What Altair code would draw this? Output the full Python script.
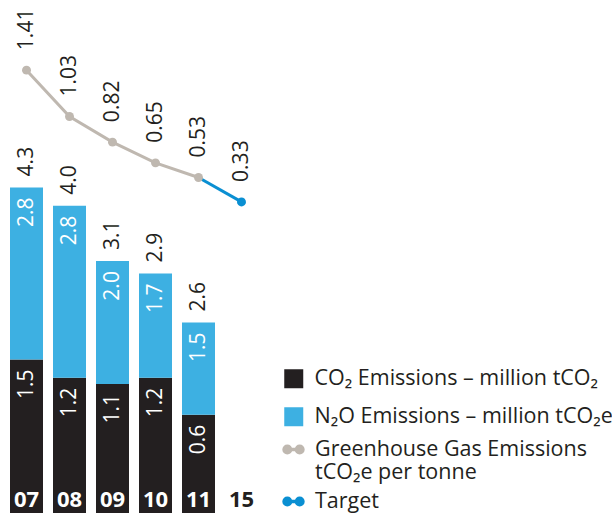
import altair as alt
import pandas as pd

# ---- data ----
years = ["07", "08", "09", "10", "11", "15"]
bar_years = ["07", "08", "09", "10", "11"]
co2 = [1.5, 1.2, 1.1, 1.2, 0.6]
n2o = [2.8, 2.8, 2.0, 1.7, 1.5]
totals = [4.3, 4.0, 3.1, 2.9, 2.6]
ghg = [1.41, 1.03, 0.82, 0.65, 0.53]
target_year = "15"
target_value = 0.33

co2_label = "CO₂ Emissions – million tCO₂"
n2o_label = "N₂O Emissions – million tCO₂e"
ghg_label = "Greenhouse Gas Emissions|tCO₂e per tonne"
target_label = "Target"

BLACK = "#231f20"
BLUE = "#3db0e2"
GRAY = "#bfb8b0"
TBLUE = "#0a8fd2"
FONT = "Open Sans"

df_co2 = pd.DataFrame({"year": bar_years, "value": co2, "series": co2_label})
df_n2o = pd.DataFrame({
    "year": bar_years,
    "lo": co2,
    "hi": [a + b for a, b in zip(co2, n2o)],
    "n2o": n2o,
    "total": totals,
    "series": n2o_label,
})

df_line = pd.DataFrame({
    "year": bar_years + [bar_years[-1], target_year],
    "value": ghg + [ghg[-1], target_value],
    "series": [ghg_label] * len(ghg) + [target_label, target_label],
})
df_pts = pd.DataFrame({
    "year": bar_years + [target_year],
    "value": ghg + [target_value],
    "series": [ghg_label] * len(ghg) + [target_label],
})

x_scale = alt.Scale(domain=years, paddingInner=10 / 43, paddingOuter=5 / 43)
x_axis = alt.Axis(
    title=None, labelAngle=0, ticks=False, tickSize=0, domain=False, grid=False,
    labelFont=FONT, labelFontSize=22, labelFontWeight="bold",
    labelBaseline="alphabetic", labelPadding=-7, zindex=2,
    labelColor={"condition": {"test": "datum.value == '15'", "value": BLACK}, "value": "#ffffff"},
)
x_enc = alt.X("year:N", scale=x_scale, axis=x_axis)

ybar = alt.Scale(domain=[-1, 7.35])
yline = alt.Scale(domain=[-2.22, 1.985])

bar_color = alt.Color(
    "series:N",
    scale=alt.Scale(domain=[co2_label, n2o_label], range=[BLACK, BLUE]),
    legend=alt.Legend(
        orient="none", legendX=278, legendY=368, title=None, padding=0,
        symbolType="square", symbolSize=361, symbolStrokeWidth=0,
        labelFont=FONT, labelFontSize=21.5, labelColor=BLACK, labelLimit=400,
        labelOffset=10, rowPadding=15,
    ),
)

black = alt.Chart(df_co2).mark_bar().encode(
    x=x_enc,
    y=alt.Y("value:Q", scale=ybar, axis=None, stack=None),
    y2=alt.value("height"),
    color=bar_color,
)
blue = alt.Chart(df_n2o).mark_bar().encode(
    x=x_enc,
    y=alt.Y("lo:Q", scale=ybar, axis=None, stack=None),
    y2="hi:Q",
    color=bar_color,
)
co2_text = alt.Chart(df_co2).mark_text(
    angle=270, align="right", baseline="middle", dx=-10,
    font=FONT, fontSize=21, color="white",
).encode(x=x_enc, y=alt.Y("value:Q", scale=ybar, axis=None), text=alt.Text("value:Q", format=".1f"))
n2o_text = alt.Chart(df_n2o).mark_text(
    angle=270, align="right", baseline="middle", dx=-10,
    font=FONT, fontSize=21, color="white",
).encode(x=x_enc, y=alt.Y("hi:Q", scale=ybar, axis=None), text=alt.Text("n2o:Q", format=".1f"))
tot_text = alt.Chart(df_n2o).mark_text(
    angle=270, align="left", baseline="middle", dx=11,
    font=FONT, fontSize=21, color=BLACK,
).encode(x=x_enc, y=alt.Y("hi:Q", scale=ybar, axis=None), text=alt.Text("total:Q", format=".1f"))

bars = alt.layer(black, blue, co2_text, n2o_text, tot_text)


def circ(cx, r):
    return f"M{cx - r},0a{r},{r} 0 1,0 {2 * r},0a{r},{r} 0 1,0 {-2 * r},0"


sym_path = "M-0.65,0L0.65,0" + circ(-0.65, 0.16) + circ(-0.65, 0.35) + circ(0.65, 0.16) + circ(0.65, 0.35)

line_dom = [ghg_label, target_label]
line_rng = [GRAY, TBLUE]

line = alt.Chart(df_line).mark_line(strokeWidth=3).encode(
    x=x_enc,
    y=alt.Y("value:Q", scale=yline, axis=None),
    stroke=alt.Stroke(
        "series:N",
        scale=alt.Scale(domain=line_dom, range=line_rng),
        legend=alt.Legend(
            orient="none", legendX=277, legendY=438, title=None, padding=0,
            symbolType=sym_path, symbolSize=361, symbolStrokeWidth=3.4,
            symbolFillColor="transparent",
            labelExpr="split(datum.label, '|')",
            labelFont=FONT, labelFontSize=21.5, labelColor=BLACK, labelLimit=400,
            labelOffset=10, rowPadding=6,
        ),
    ),
)
pts = alt.Chart(df_pts).mark_circle(size=80, opacity=1).encode(
    x=x_enc,
    y=alt.Y("value:Q", scale=yline, axis=None),
    fill=alt.Fill("series:N", scale=alt.Scale(domain=line_dom, range=line_rng), legend=None),
)
pt_text = alt.Chart(df_pts).mark_text(
    angle=270, align="left", baseline="middle", dx=20,
    font=FONT, fontSize=21, color=BLACK,
).encode(x=x_enc, y=alt.Y("value:Q", scale=yline, axis=None), text=alt.Text("value:Q", format=".2f"))

lines = alt.layer(line, pts, pt_text)

chart = alt.layer(bars, lines).resolve_scale(y="independent").properties(
    width=258,
    height=513,
    autosize="none",
    padding={"left": 5, "top": 0, "right": 349, "bottom": 6},
    background="white",
).configure_view(stroke=None)

chart.save("out.html", embed_options={"renderer": "svg", "actions": False})
